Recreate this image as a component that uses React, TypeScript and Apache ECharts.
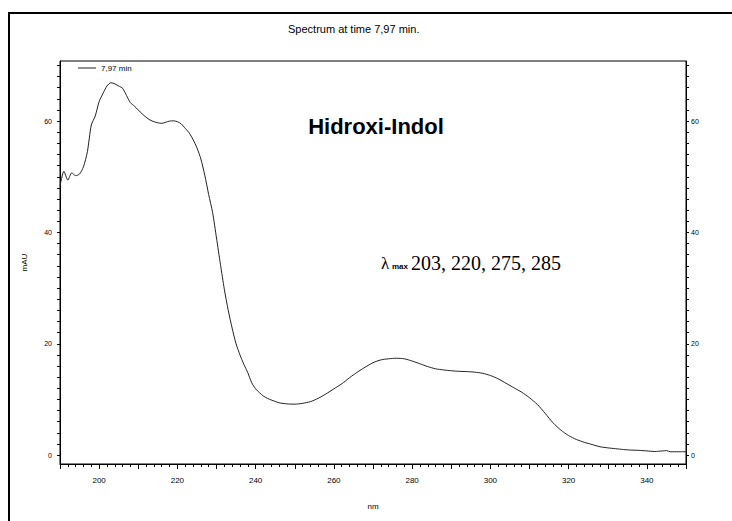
import React, { useEffect, useRef } from "react";
import * as echarts from "echarts";

const titleText = "Spectrum at time 7,97 min.";
const seriesName = "7,97 min";
const compoundName = "Hidroxi-Indol";
const lambdaValues = "203, 220, 275, 285";

const wavelengths = [
  190, 191, 192, 193, 194, 195, 196, 197, 198, 199, 200, 201, 202, 203, 204, 205,
  206, 207, 208, 209, 210, 211, 212, 213, 214, 215, 216, 217, 218, 219, 220, 221,
  222, 223, 224, 225, 226, 227, 228, 229, 230, 231, 232, 233, 234, 235, 236, 237,
  238, 239, 240, 241, 242, 243, 244, 246, 248, 250, 252, 254, 256, 258, 260, 262,
  264, 266, 268, 270, 272, 274, 276, 278, 280, 282, 284, 286, 288, 290, 292, 294,
  296, 298, 300, 302, 304, 306, 308, 310, 312, 314, 316, 318, 320, 322, 324, 326,
  328, 330, 332, 334, 336, 338, 340, 342, 344, 345, 346, 348, 350,
];

const absorbance = [
  48.3, 51.0, 49.4, 50.7, 50.2, 50.5, 51.8, 54.5, 59.3, 60.9, 63.5, 65.0, 66.3, 66.9, 66.7, 66.3,
  65.9, 64.6, 63.3, 62.7, 62.0, 61.3, 60.7, 60.2, 59.9, 59.7, 59.6, 59.8, 60.0, 60.05, 59.9, 59.5,
  58.7, 57.9, 56.7, 55.2, 53.2, 50.3, 46.8, 43.6, 39.0, 34.3, 29.8, 26.0, 22.8, 20.0, 18.0, 16.3,
  14.8, 13.0, 11.9, 11.2, 10.6, 10.2, 9.9, 9.4, 9.2, 9.15, 9.3, 9.6, 10.2, 11.0, 11.9, 12.8,
  13.9, 14.9, 15.8, 16.6, 17.1, 17.3, 17.4, 17.3, 16.9, 16.4, 15.9, 15.5, 15.3, 15.15, 15.05, 15.0,
  14.9, 14.7, 14.3, 13.7, 12.9, 12.1, 11.3, 10.3, 9.1, 7.5, 5.8, 4.5, 3.5, 2.8, 2.3, 1.9,
  1.5, 1.3, 1.15, 1.0, 0.9, 0.85, 0.75, 0.65, 0.75, 0.8, 0.6, 0.6, 0.6,
];

const xTickLabels = [200, 220, 240, 260, 280, 300, 320, 340];
const yTickLabels = [0, 20, 40, 60];
const yMinorTicks: number[] = [];
for (let v = 0; v <= 70; v += 2) yMinorTicks.push(v);

export default function App() {
  const ref = useRef<HTMLDivElement>(null);
  useEffect(() => {
    if (!ref.current) return;
    const chart = echarts.init(ref.current, null, { renderer: "svg" });
    const font = "'Liberation Sans', Arial, sans-serif";
    const yAxisBase = (pos: "left" | "right") => ({
      type: "value",
      position: pos,
      min: -1.6,
      max: 70.8,
      axisLine: { show: true, onZero: false, lineStyle: { color: "#000", width: 1 } },
      axisTick: { show: true, customValues: yMinorTicks, length: 3, lineStyle: { color: "#000" } },
      axisLabel: {
        customValues: yTickLabels,
        fontSize: 7,
        color: "#000",
        fontFamily: font,
        margin: pos === "left" ? 8 : 5,
      },
      splitLine: { show: false },
    });
    chart.setOption({
      animation: false,
      backgroundColor: "#fff",
      title: {
        text: titleText,
        left: 283,
        top: 18,
        textStyle: { fontSize: 11, fontWeight: "normal", color: "#000", fontFamily: font },
      },
      legend: {
        data: [seriesName],
        left: 78,
        top: 64,
        padding: 0,
        icon: "rect",
        itemWidth: 18,
        itemHeight: 1,
        itemGap: 4,
        textStyle: { fontSize: 8, color: "#000", fontFamily: font },
      },
      grid: {
        left: 60,
        right: 46,
        top: 61,
        bottom: 57,
        show: true,
        borderColor: "#000",
        borderWidth: 1,
        backgroundColor: "transparent",
        outerBoundsMode: "none",
      },
      xAxis: {
        type: "value",
        min: 190,
        max: 350,
        interval: 10,
        axisLine: { show: true, onZero: false, lineStyle: { color: "#000", width: 1 } },
        axisTick: { show: true, length: 5, lineStyle: { color: "#000" } },
        minorTick: { show: true, splitNumber: 5, length: 3, lineStyle: { color: "#000" } },
        axisLabel: {
          customValues: xTickLabels,
          fontSize: 8,
          color: "#000",
          fontFamily: font,
          margin: 12,
        },
        splitLine: { show: false },
        name: "nm",
        nameLocation: "middle",
        nameGap: 38,
        nameTextStyle: { fontSize: 8, color: "#000", fontFamily: font },
      },
      yAxis: [
        {
          ...yAxisBase("left"),
          name: "mAU",
          nameLocation: "middle",
          nameGap: 32,
          nameTextStyle: { fontSize: 8, color: "#000", fontFamily: font },
        },
        yAxisBase("right"),
      ],
      series: [
        {
          name: seriesName,
          type: "line",
          yAxisIndex: 0,
          data: wavelengths.map((w, i) => [w, absorbance[i]]),
          showSymbol: false,
          symbol: "none",
          smooth: 0.25,
          lineStyle: { color: "#222", width: 1 },
          itemStyle: { color: "#222" },
        },
      ],
      graphic: [
        {
          type: "rect",
          shape: { x: 9, y: 13, width: 800, height: 600 },
          style: { fill: "none", stroke: "#000", lineWidth: 2 },
          silent: true,
        },
        {
          type: "text",
          x: 376,
          y: 126,
          style: {
            text: compoundName,
            font: "bold 22px 'Liberation Sans', Arial, sans-serif",
            fill: "#000",
            align: "center",
            verticalAlign: "middle",
          },
        },
        {
          type: "text",
          x: 381,
          y: 263,
          style: {
            text: "λ",
            font: "17px 'Liberation Serif', 'Times New Roman', serif",
            fill: "#000",
            align: "left",
            verticalAlign: "middle",
          },
        },
        {
          type: "text",
          x: 392,
          y: 266,
          style: {
            text: "max",
            font: "bold 8px 'Liberation Sans', Arial, sans-serif",
            fill: "#000",
            align: "left",
            verticalAlign: "middle",
          },
        },
        {
          type: "text",
          x: 411,
          y: 263,
          style: {
            text: lambdaValues,
            font: "20px 'Liberation Serif', 'Times New Roman', serif",
            fill: "#000",
            align: "left",
            verticalAlign: "middle",
          },
        },
      ],
    });
    return () => chart.dispose();
  }, []);
  return (
    <div
      ref={ref}
      style={{ position: "fixed", left: 0, top: 0, width: 732, height: 521, background: "#fff" }}
    />
  );
}
